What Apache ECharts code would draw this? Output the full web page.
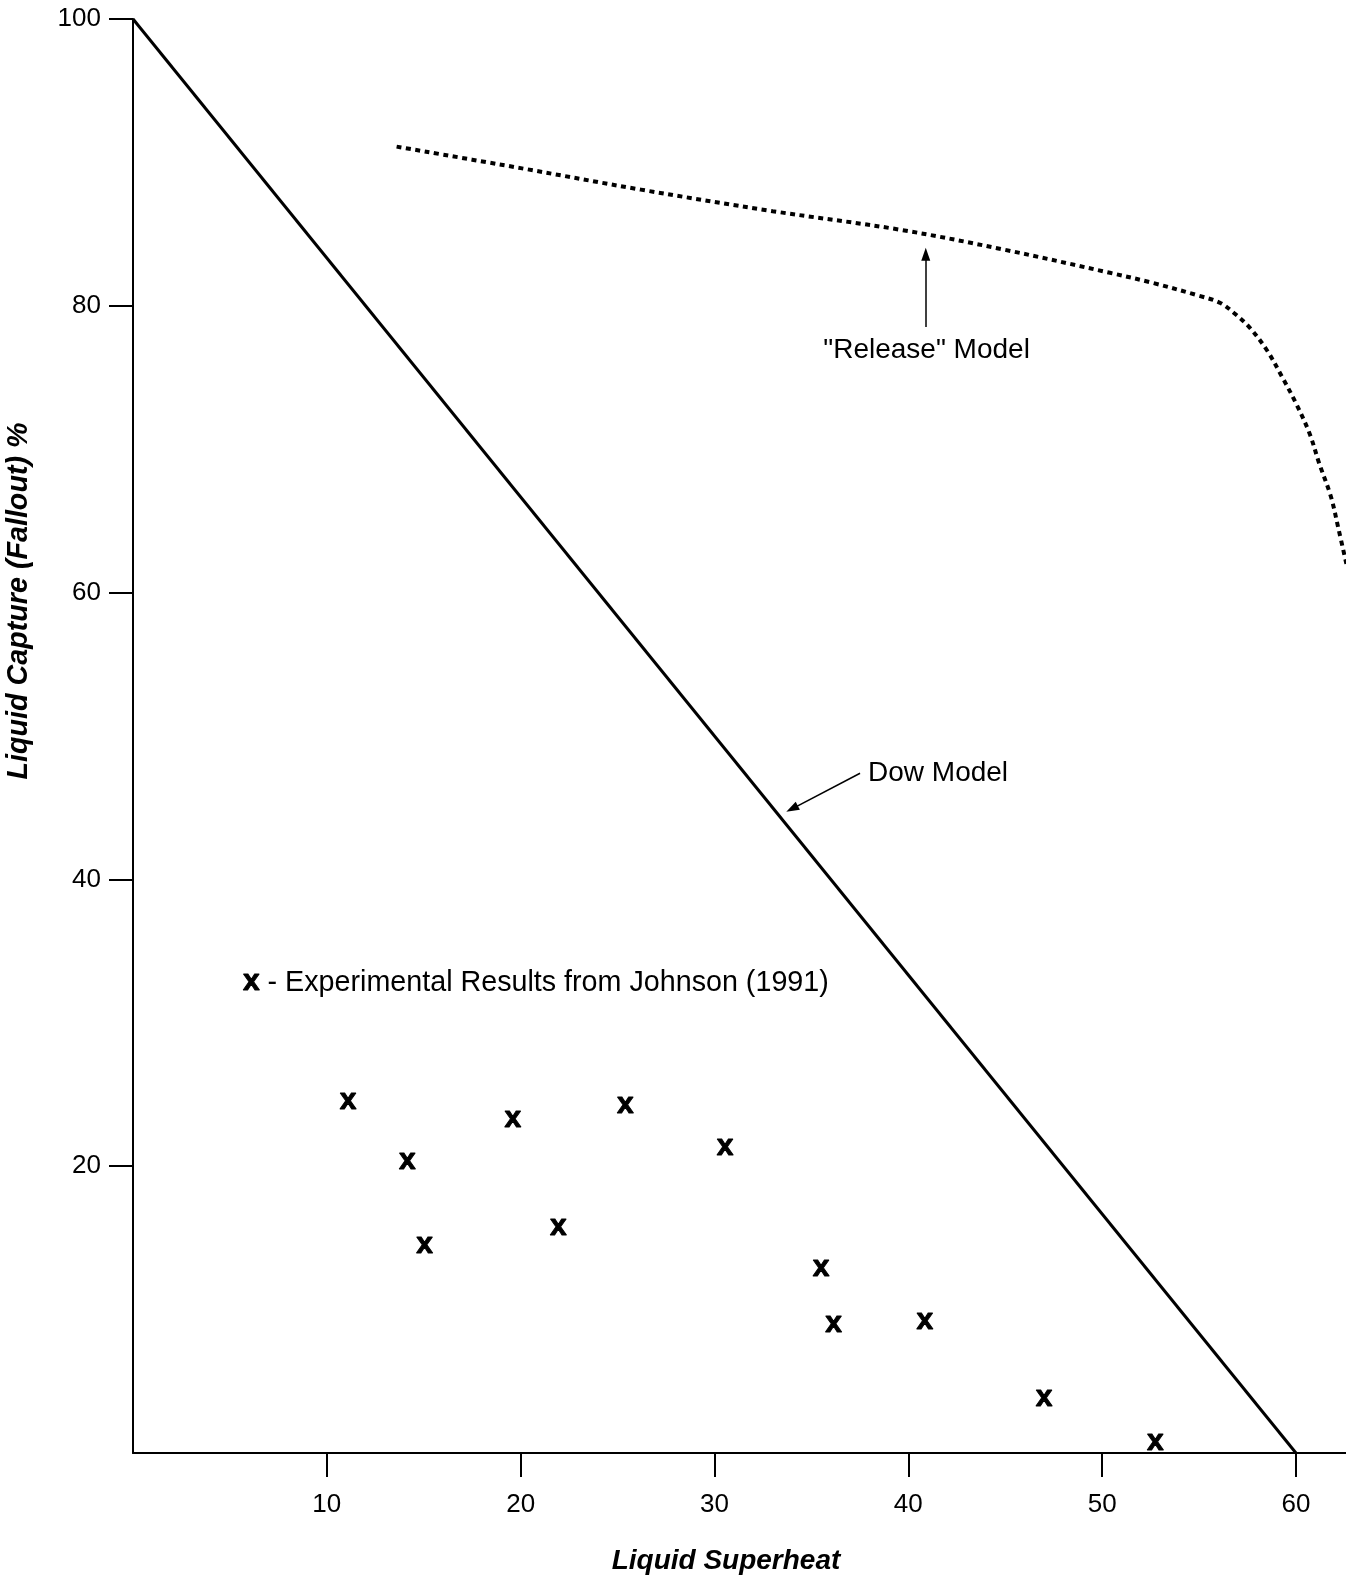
<!DOCTYPE html>
<html>
<head>
<meta charset="utf-8">
<script src="https://cdn.jsdelivr.net/npm/echarts@6/dist/echarts.min.js"></script>
<style>
  html, body { margin: 0; padding: 0; background: #fff; }
  #chart { width: 1346px; height: 1581px; }
</style>
</head>
<body>
<div id="chart"></div>
<script>
// ---- data ----
var xTicks = [10, 20, 30, 40, 50, 60];
var yTicks = [20, 40, 60, 80, 100];

var dowX = [0, 60];
var dowY = [100, 0];

var releaseX = [13.6, 20, 26.2, 33, 39.6, 45, 50.4, 52.6, 55, 56.1, 56.8, 57.6, 58.5, 59.3, 60.0, 60.7, 61.2, 61.8, 62.2, 62.6];
var releaseY = [91.1, 89.6, 88.1, 86.6, 85.3, 83.9, 82.3, 81.6, 80.7, 80.2, 79.5, 78.5, 76.9, 75.0, 73.2, 71.1, 69.0, 66.7, 64.4, 62.0];

var expX = [11.1, 14.15, 15.05, 19.6, 21.95, 25.4, 30.55, 35.5, 36.15, 40.85, 47.0, 52.75];
var expY = [24.55, 20.4, 14.5, 23.3, 15.8, 24.3, 21.35, 12.9, 9.0, 9.25, 3.85, 0.8];

var annotText = ['"Release" Model', 'Dow Model', '{b|x} - Experimental Results from Johnson (1991)'];
var annotX = [40.94, 37.92, 5.67];
var annotY = [76.87, 47.42, 32.77];

var releaseArrowFrom = [40.9, 78.52];
var releaseArrowTo = [40.9, 83.6];
var dowArrowFrom = [37.51, 47.4];
var dowArrowTo = [34.0, 44.92];

var xName = 'Liquid Superheat';
var yName = 'Liquid Capture (Fallout) %';

// ---- chart ----
var FONT = '"Liberation Sans", Arial, Helvetica, sans-serif';
var chart = echarts.init(document.getElementById('chart'), null, { renderer: 'canvas' });

function zip(a, b) { return a.map(function (v, i) { return [v, b[i]]; }); }

var option = {
  animation: false,
  backgroundColor: '#ffffff',
  grid: { left: 133, top: 19, right: 0, bottom: 128, containLabel: false, outerBoundsMode: 'none' },
  xAxis: {
    type: 'value', min: 0, max: 62.58,
    axisLine: { show: true, lineStyle: { color: '#000', width: 2 } },
    axisTick: { show: true, customValues: xTicks, length: 24, lineStyle: { color: '#000', width: 2 } },
    axisLabel: { show: true, customValues: xTicks, margin: 39, fontSize: 26, color: '#000', fontFamily: FONT },
    splitLine: { show: false }
  },
  yAxis: {
    type: 'value', min: 0, max: 100,
    axisLine: { show: true, lineStyle: { color: '#000', width: 2 } },
    axisTick: { show: true, customValues: yTicks, length: 24, lineStyle: { color: '#000', width: 2 } },
    axisLabel: { show: true, customValues: yTicks, margin: 32, fontSize: 26, color: '#000', fontFamily: FONT },
    splitLine: { show: false }
  },
  series: [
    {
      name: 'Dow Model', type: 'line', data: zip(dowX, dowY), symbol: 'none',
      lineStyle: { color: '#000', width: 3 }, silent: true
    },
    {
      name: 'Release Model', type: 'line', data: zip(releaseX, releaseY), symbol: 'none', smooth: 0.35,
      lineStyle: { color: '#000', width: 4, type: [5, 4.5], cap: 'butt' }, silent: true, clip: true,
      markLine: {
        silent: true, animation: false,
        symbol: ['none', 'triangle'], symbolSize: [9, 13],
        label: { show: false },
        lineStyle: { color: '#000', width: 1.5, type: 'solid' },
        data: [
          [{ coord: releaseArrowFrom }, { coord: releaseArrowTo }],
          [{ coord: dowArrowFrom }, { coord: dowArrowTo }]
        ]
      }
    },
    {
      name: 'Experimental', type: 'scatter', data: zip(expX, expY), symbolSize: 0,
      itemStyle: { color: '#000', opacity: 1 },
      label: {
        show: true, position: 'inside', formatter: 'x', color: '#000', opacity: 1, fontSize: 30, fontWeight: 'bold', fontFamily: FONT,
        offset: [0, 0], textBorderColor: '#000', textBorderWidth: 1
      },
      silent: true
    }
  ]
};
chart.setOption(option);

// annotation texts placed at data coordinates through the chart's own scales
var graphics = [
  { type: 'text', x: 726, y: 1561, style: { text: xName, font: 'italic bold 28px ' + FONT, fill: '#000', align: 'center', verticalAlign: 'middle' } },
  { type: 'text', x: 19, y: 601, rotation: Math.PI / 2, style: { text: yName, font: 'italic bold 28.7px ' + FONT, fill: '#000', align: 'center', verticalAlign: 'middle' } }
];
annotText.forEach(function (t, i) {
  var p = chart.convertToPixel({ gridIndex: 0 }, [annotX[i], annotY[i]]);
  graphics.push({
    type: 'text', x: p[0], y: p[1],
    style: {
      text: t, fill: '#000', fontSize: i === 2 ? 28.7 : 28, fontFamily: FONT,
      align: i === 0 ? 'center' : 'left', verticalAlign: 'middle',
      rich: { b: { fontSize: 30, fontWeight: 'bold', fontFamily: FONT, fill: '#000', stroke: '#000', lineWidth: 1, padding: [0, 0, 3, 0] } }
    }
  });
});
chart.setOption({ graphic: graphics });
</script>
</body>
</html>
